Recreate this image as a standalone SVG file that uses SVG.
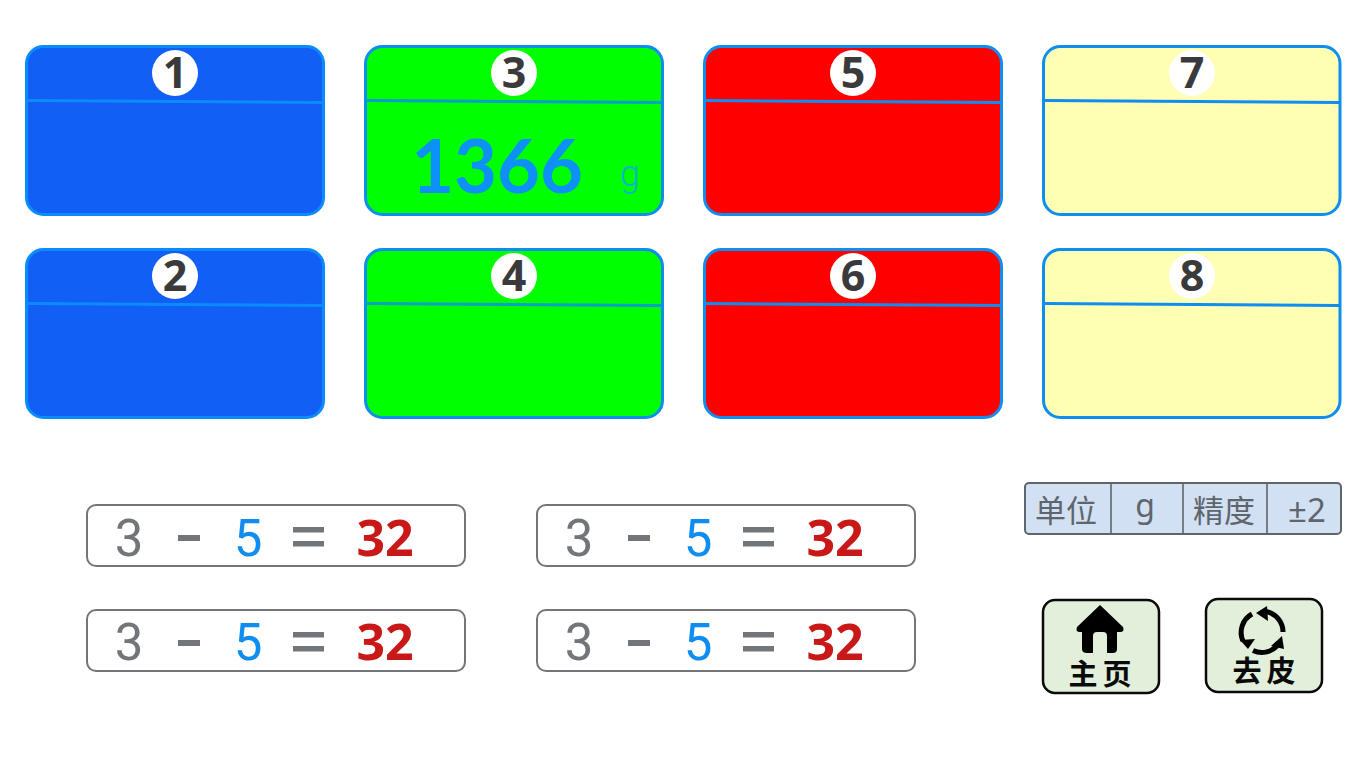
<svg xmlns="http://www.w3.org/2000/svg" width="1366" height="768" viewBox="0 0 1366 768">
<style>
text{font-family:"Noto Sans","Noto Sans CJK SC",sans-serif;text-anchor:middle}
.card{stroke:#0f8df0;stroke-width:3}
.blue{fill:#115ff5;stroke:#0a8cff}.green{fill:#00ff00}.red{fill:#ff0000}.yellow{fill:#ffffb4}
.div{stroke:#0f8df0;stroke-width:3;fill:none}
.divb{stroke:#0a8cff}.divg{stroke:#0a9fc8}
.badge{fill:#fff}
.num{font-size:43px;font-weight:700;fill:#3a3a3c}
.frm{fill:#fff;stroke:#72767b;stroke-width:2}
.a{font-family:Roboto,sans-serif;font-size:51px;fill:#72767b}
.b{font-family:Roboto,sans-serif;font-size:51px;fill:#0f8df0}
.c{font-size:50px;font-weight:700;fill:#c81818}
.op{fill:#72767b}
.t{font-size:31px;fill:#5f656c}
.sep{stroke:#5f656c;stroke-width:1.6}
.btn{fill:#e2efda;stroke:#0a0a0a;stroke-width:2.5}
.bt{font-size:29px;font-weight:700;fill:#0a0a0a;letter-spacing:5px}
</style>
<g id="card1"><rect class="card blue" x="26.5" y="46.5" width="297" height="168" rx="17"/><line class="div divb" x1="27" y1="100.5" x2="323" y2="102.5"/><circle class="badge" cx="175" cy="73" r="23"/><text class="num" x="175" y="88">1</text></g>
<g id="card3"><rect class="card green" x="365.5" y="46.5" width="297" height="168" rx="17"/><line class="div divg" x1="366" y1="100.5" x2="662" y2="102.5"/><circle class="badge" cx="514" cy="73" r="23"/><text class="num" x="514" y="88">3</text><text x="497" y="193" font-size="74" font-weight="700" fill="#0d90f8" style="font-family:Lato,sans-serif">1366</text><text x="630" y="186" font-size="36" fill="#08b4c8" style="font-family:Roboto,sans-serif;font-weight:300">g</text></g>
<g id="card5"><rect class="card red" x="704.5" y="46.5" width="297" height="168" rx="17"/><line class="div" x1="705" y1="100.5" x2="1001" y2="102.5"/><circle class="badge" cx="853" cy="73" r="23"/><text class="num" x="853" y="88">5</text></g>
<g id="card7"><rect class="card yellow" x="1043.5" y="46.5" width="296.5" height="168" rx="17"/><line class="div" x1="1044" y1="100.5" x2="1339" y2="102.5"/><circle class="badge" cx="1192" cy="73" r="23"/><text class="num" x="1192" y="88">7</text></g>
<g id="card2"><rect class="card blue" x="26.5" y="249.5" width="297" height="168" rx="17"/><line class="div divb" x1="27" y1="303.5" x2="323" y2="305.5"/><circle class="badge" cx="175" cy="276" r="23"/><text class="num" x="175" y="291">2</text></g>
<g id="card4"><rect class="card green" x="365.5" y="249.5" width="297" height="168" rx="17"/><line class="div divg" x1="366" y1="303.5" x2="662" y2="305.5"/><circle class="badge" cx="514" cy="276" r="23"/><text class="num" x="514" y="291">4</text></g>
<g id="card6"><rect class="card red" x="704.5" y="249.5" width="297" height="168" rx="17"/><line class="div" x1="705" y1="303.5" x2="1001" y2="305.5"/><circle class="badge" cx="853" cy="276" r="23"/><text class="num" x="853" y="291">6</text></g>
<g id="card8"><rect class="card yellow" x="1043.5" y="249.5" width="296.5" height="168" rx="17"/><line class="div" x1="1044" y1="303.5" x2="1339" y2="305.5"/><circle class="badge" cx="1192" cy="276" r="23"/><text class="num" x="1192" y="291">8</text></g>
<g id="formula1"><rect class="frm" x="87" y="505" width="378" height="61" rx="9"/><text class="a" x="129" y="555.5">3</text><rect class="op" x="178" y="535" width="22" height="6"/><text class="b" x="248" y="555.5">5</text><rect class="op" x="293" y="527" width="31" height="5.5"/><rect class="op" x="293" y="541" width="31" height="5.5"/><text class="c" x="385" y="555.5">32</text></g>
<g id="formula2"><rect class="frm" x="537" y="505" width="378" height="61" rx="9"/><text class="a" x="579" y="555.5">3</text><rect class="op" x="628" y="535" width="22" height="6"/><text class="b" x="698" y="555.5">5</text><rect class="op" x="743" y="527" width="31" height="5.5"/><rect class="op" x="743" y="541" width="31" height="5.5"/><text class="c" x="835" y="555.5">32</text></g>
<g id="formula3"><rect class="frm" x="87" y="610" width="378" height="61" rx="9"/><text class="a" x="129" y="660">3</text><rect class="op" x="178" y="640" width="22" height="6"/><text class="b" x="248" y="660">5</text><rect class="op" x="293" y="632" width="31" height="5.5"/><rect class="op" x="293" y="646" width="31" height="5.5"/><text class="c" x="385" y="660">32</text></g>
<g id="formula4"><rect class="frm" x="537" y="610" width="378" height="61" rx="9"/><text class="a" x="579" y="660">3</text><rect class="op" x="628" y="640" width="22" height="6"/><text class="b" x="698" y="660">5</text><rect class="op" x="743" y="632" width="31" height="5.5"/><rect class="op" x="743" y="646" width="31" height="5.5"/><text class="c" x="835" y="660">32</text></g>
<g id="info"><rect x="1025" y="483" width="316" height="51" rx="4" fill="#d2e0f3" stroke="#5f656c" stroke-width="2"/>
<line class="sep" x1="1111" y1="483" x2="1111" y2="534"/><line class="sep" x1="1183" y1="483" x2="1183" y2="534"/><line class="sep" x1="1267" y1="483" x2="1267" y2="534"/>
<text class="t" x="1066" y="522">单位</text><text class="t" x="1145" y="517" style="font-size:32px">g</text><text class="t" x="1224" y="522">精度</text><text class="t" x="1307" y="522" style="font-size:33px">±2</text></g>
<g id="btn-home"><rect class="btn" x="1043" y="600" width="116" height="93" rx="12"/>
<path d="M1100 605 L1123 627 Q1125 632 1120 632 L1117 632 L1117 649 Q1117 653 1113 653 L1107 653 L1107 636 Q1107 632 1103 632 L1097 632 Q1093 632 1093 636 L1093 653 L1087 653 Q1082 653 1082 649 L1082 632 L1080 632 Q1075 632 1077 627 Z" fill="#000"/>
<text class="bt" x="1102.5" y="685">主页</text></g>
<g id="btn-tare"><rect class="btn" x="1206" y="599" width="116" height="93" rx="12"/>
<g fill="none" stroke="#000" stroke-width="5"><path d="M1283 632 A21 21 0 0 0 1266 611.5"/><path d="M1253 650.5 A21 21 0 0 0 1277 646"/><path d="M1252 614 A21 21 0 0 0 1243 641"/></g>
<g fill="#000"><path d="M1256 613 L1267 606 L1268 621 Z"/><path d="M1282 636 L1284 649 L1271 646 Z"/><path d="M1248 649 L1240 640 L1255 639 Z"/></g>
<text class="bt" x="1266.5" y="682">去皮</text></g>
</svg>
